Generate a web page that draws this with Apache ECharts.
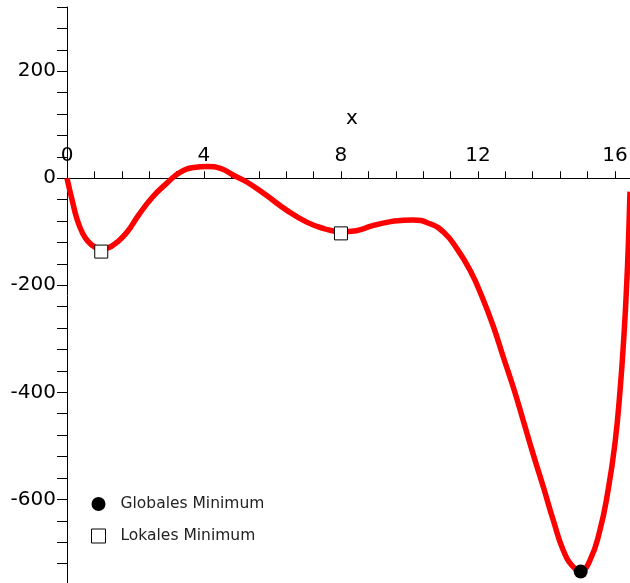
<!DOCTYPE html>
<html>
<head>
<meta charset="utf-8">
<script src="https://cdn.jsdelivr.net/npm/echarts@6/dist/echarts.min.js"></script>
<style>
  html, body { margin: 0; padding: 0; background: #fff; }
</style>
</head>
<body>
<div id="chart" style="width: 630px; height: 583px;"></div>
<script>
// curve
const curveX = [0, 0.15, 0.3, 0.45, 0.6, 0.8, 1.0, 1.2, 1.45, 1.75, 2.1, 2.5, 2.9, 3.3, 3.7, 4.1, 4.5, 4.85, 5.25,
  5.8, 6.4, 7.0, 7.5, 8.0, 8.45, 8.9, 9.45, 9.75, 10.1, 10.6, 11.0, 11.38, 11.77, 12.11, 12.45, 12.74, 13.03,
  13.32, 13.61, 13.91, 14.2, 14.49, 14.78, 15.0, 15.27, 15.56, 15.8, 16.0, 16.15, 16.26, 16.34, 16.4, 16.44]
const curveY = [0, -41, -78, -102, -117, -128, -132, -130, -120, -101, -68, -35, -10, 11, 20, 22, 18, 6, -7,
  -31, -59, -82, -94, -100, -98, -89, -81, -79, -78, -85, -101, -131, -172, -220, -277, -334, -390,
  -452, -515, -577, -639, -695, -726, -733, -714, -658, -583, -496, -396, -297, -203, -110, -25]

const globalMin = [[15.0, -735]]
const localMin = [[1.0, -137], [8.0, -103]]

const X_MAX = 16.44
const Y_MIN = -760
const Y_MAX = 320
const GRID_TOP = 7
const GRID_H = 578

const curve = curveX.map((x, i) => [x, curveY[i]])

// x axis sits on y = 0, pulled down from the grid top
const zeroOffset = -GRID_H * Y_MAX / (Y_MAX - Y_MIN)

const chart = echarts.init(document.getElementById('chart'))
chart.setOption({
  animation: false,
  backgroundColor: '#fff',
  grid: { left: 67, right: 0, top: GRID_TOP, height: GRID_H, outerBoundsMode: 'none' },
  legend: {
    orient: 'vertical',
    left: 86,
    top: 491,
    itemWidth: 14,
    itemHeight: 14,
    itemGap: 16,
    textStyle: { fontFamily: 'DejaVu Sans', fontSize: 15.5, color: '#222', padding: [0, 0, 0, 10] },
    data: [
      { name: 'Globales Minimum', icon: 'circle', itemStyle: { color: '#000' } },
      { name: 'Lokales Minimum', icon: 'rect', itemStyle: { color: '#fff', borderColor: '#000', borderWidth: 1 } }
    ]
  },
  xAxis: {
    type: 'value',
    position: 'top',
    offset: zeroOffset,
    min: 0,
    max: X_MAX,
    interval: 0.8,
    name: 'x',
    nameLocation: 'middle',
    nameGap: 49,
    nameTextStyle: { fontFamily: 'DejaVu Sans', fontSize: 20, color: '#000', padding: [0, 0, 0, 7] },
    axisLine: { onZero: false, lineStyle: { color: '#000', width: 1 } },
    axisTick: { show: true, length: 7, lineStyle: { color: '#000' } },
    splitLine: { show: false },
    axisLabel: {
      margin: 12,
      color: '#000',
      fontFamily: 'DejaVu Sans',
      fontSize: 20,
      formatter: function (v) {
        const k = v / 4
        return Math.abs(k - Math.round(k)) < 1e-6 ? String(Math.round(v)) : ''
      }
    }
  },
  yAxis: {
    type: 'value',
    min: Y_MIN,
    max: Y_MAX,
    interval: 40,
    axisLine: { show: true, onZero: false, lineStyle: { color: '#000', width: 1 } },
    axisTick: { show: true, length: 10, lineStyle: { color: '#000' } },
    splitLine: { show: false },
    axisLabel: {
      margin: 11,
      color: '#000',
      fontFamily: 'DejaVu Sans',
      fontSize: 20,
      formatter: function (v) {
        return v % 200 === 0 ? String(v) : ''
      }
    }
  },
  series: [
    {
      name: 'f',
      type: 'line',
      data: curve,
      smooth: 0.5,
      symbol: 'none',
      lineStyle: { color: '#ff0000', width: 5.5 },
      z: 2
    },
    {
      name: 'Lokales Minimum',
      type: 'scatter',
      data: localMin,
      symbol: 'rect',
      symbolSize: 13,
      itemStyle: { color: '#fff', borderColor: '#000', borderWidth: 1, opacity: 1 },
      z: 3
    },
    {
      name: 'Globales Minimum',
      type: 'scatter',
      data: globalMin,
      symbol: 'circle',
      symbolSize: 14,
      itemStyle: { color: '#000', opacity: 1 },
      z: 3
    }
  ]
})
</script>
</body>
</html>
